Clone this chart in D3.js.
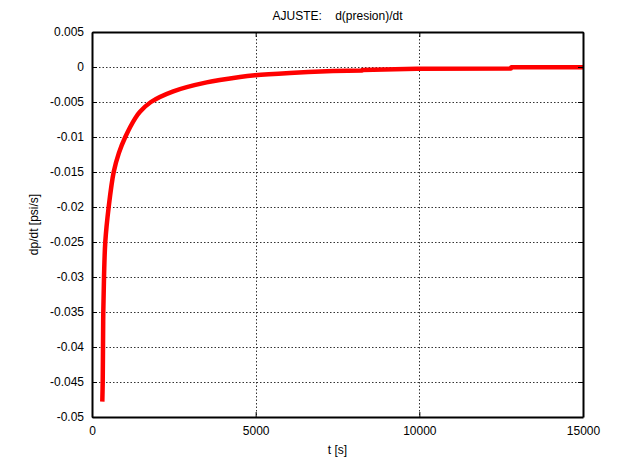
<!DOCTYPE html>
<html>
<head>
<meta charset="utf-8">
<script src="https://cdn.jsdelivr.net/npm/d3@7"></script>
<style>
  body { margin: 0; background: #fff; }
  svg { display: block; font-family: "Liberation Sans", Arial, sans-serif; }
</style>
</head>
<body>
<svg id="chart" width="619" height="462"></svg>
<script>
// time [s] and fitted pressure derivative [psi/s]
const timeS = [315, 327, 336, 345, 367, 406, 510, 663, 820, 1017, 1323, 1466, 1800, 2484,
               3503, 4520, 4978, 6047, 7360, 8250, 8260, 9925, 12800, 12810, 15000];
const dpdt = [-0.0478, -0.045, -0.040, -0.035, -0.030, -0.025, -0.020, -0.015, -0.0123, -0.010,
              -0.0073, -0.0064, -0.0050, -0.00347, -0.00219, -0.00143, -0.00119,
              -0.00086, -0.00057, -0.00050, -0.00042, -0.00026, -0.00022, -0.00002, -0.00002];

const xTicks = [0, 5000, 10000, 15000];
const yTicks = [0.005, 0, -0.005, -0.01, -0.015, -0.02, -0.025, -0.03, -0.035, -0.04, -0.045, -0.05];

const titleText = "AJUSTE:    d(presion)/dt";
const xLabel = "t [s]";
const yLabel = "dp/dt [psi/s]";

const margin = { left: 92, right: 36, top: 32, bottom: 45 };
const W = 619, H = 462;
const iw = W - margin.left - margin.right;
const ih = H - margin.top - margin.bottom;

const svg = d3.select("#chart");
const g = svg.append("g").attr("transform", `translate(${margin.left},${margin.top})`);

const x = d3.scaleLinear().domain([0, 15000]).range([0, iw]);
const y = d3.scaleLinear().domain([-0.05, 0.005]).range([ih, 0]);

// dotted grid
const grid = g.append("g").attr("stroke", "#333").attr("stroke-width", 1)
  .attr("stroke-dasharray", "1.5,2");
grid.selectAll(".gx").data(xTicks.slice(1, -1)).join("line")
  .attr("x1", d => Math.round(x(d)) + 0.5).attr("x2", d => Math.round(x(d)) + 0.5)
  .attr("y1", 0).attr("y2", ih);
grid.selectAll(".gy").data(yTicks.slice(1, -1)).join("line")
  .attr("y1", d => Math.round(y(d)) + 0.5).attr("y2", d => Math.round(y(d)) + 0.5)
  .attr("x1", 0).attr("x2", iw);

// fitted curve: smooth decay, then the stepped tail drawn with straight segments
const pts = timeS.map((t, i) => [t, dpdt[i]]);
const split = timeS.indexOf(7360);
const smooth = d3.line().x(d => x(d[0])).y(d => y(d[1])).curve(d3.curveCatmullRom.alpha(0.5));
const straight = d3.line().x(d => x(d[0])).y(d => y(d[1]));
const curveD = smooth(pts.slice(0, split + 1)) + straight(pts.slice(split)).replace(/^M/, "L");
g.append("path")
  .attr("d", curveD)
  .attr("fill", "none").attr("stroke", "#ff0000").attr("stroke-width", 4.5)
  .attr("stroke-linejoin", "round");

// axes with inward ticks, mirrored on top and right
const fmtY = d => d === 0 ? "0" : String(+d.toFixed(3));
const axB = g.append("g").attr("transform", `translate(0,${ih})`)
  .call(d3.axisBottom(x).tickValues(xTicks).tickSizeInner(-5).tickSizeOuter(0).tickPadding(9).tickFormat(d3.format("d")));
const axT = g.append("g")
  .call(d3.axisTop(x).tickValues(xTicks).tickSizeInner(-5).tickSizeOuter(0).tickFormat(""));
const axL = g.append("g")
  .call(d3.axisLeft(y).tickValues(yTicks).tickSizeInner(-5).tickSizeOuter(0).tickPadding(8).tickFormat(fmtY));
const axR = g.append("g").attr("transform", `translate(${iw},0)`)
  .call(d3.axisRight(y).tickValues(yTicks).tickSizeInner(-5).tickSizeOuter(0).tickFormat(""));

[axB, axT, axL, axR].forEach(a => {
  a.select(".domain").attr("stroke", "#000").attr("stroke-width", 2);
  a.selectAll(".tick line").attr("stroke", "#000").attr("stroke-width", 1);
  a.selectAll("text").attr("font-size", 12).attr("fill", "#000")
    .attr("font-family", "'Liberation Sans', Arial, sans-serif");
});

// title and axis labels
svg.append("text").attr("x", margin.left + iw / 2).attr("y", 20)
  .attr("text-anchor", "middle").attr("font-size", 12).attr("fill", "#000")
  .style("white-space", "pre").text(titleText);
svg.append("text").attr("x", margin.left + iw / 2).attr("y", 454)
  .attr("text-anchor", "middle").attr("font-size", 12).attr("fill", "#000").text(xLabel);
svg.append("text").attr("transform", `translate(38,${margin.top + ih / 2}) rotate(-90)`)
  .attr("text-anchor", "middle").attr("font-size", 12).attr("fill", "#000").text(yLabel);
</script>
</body>
</html>
